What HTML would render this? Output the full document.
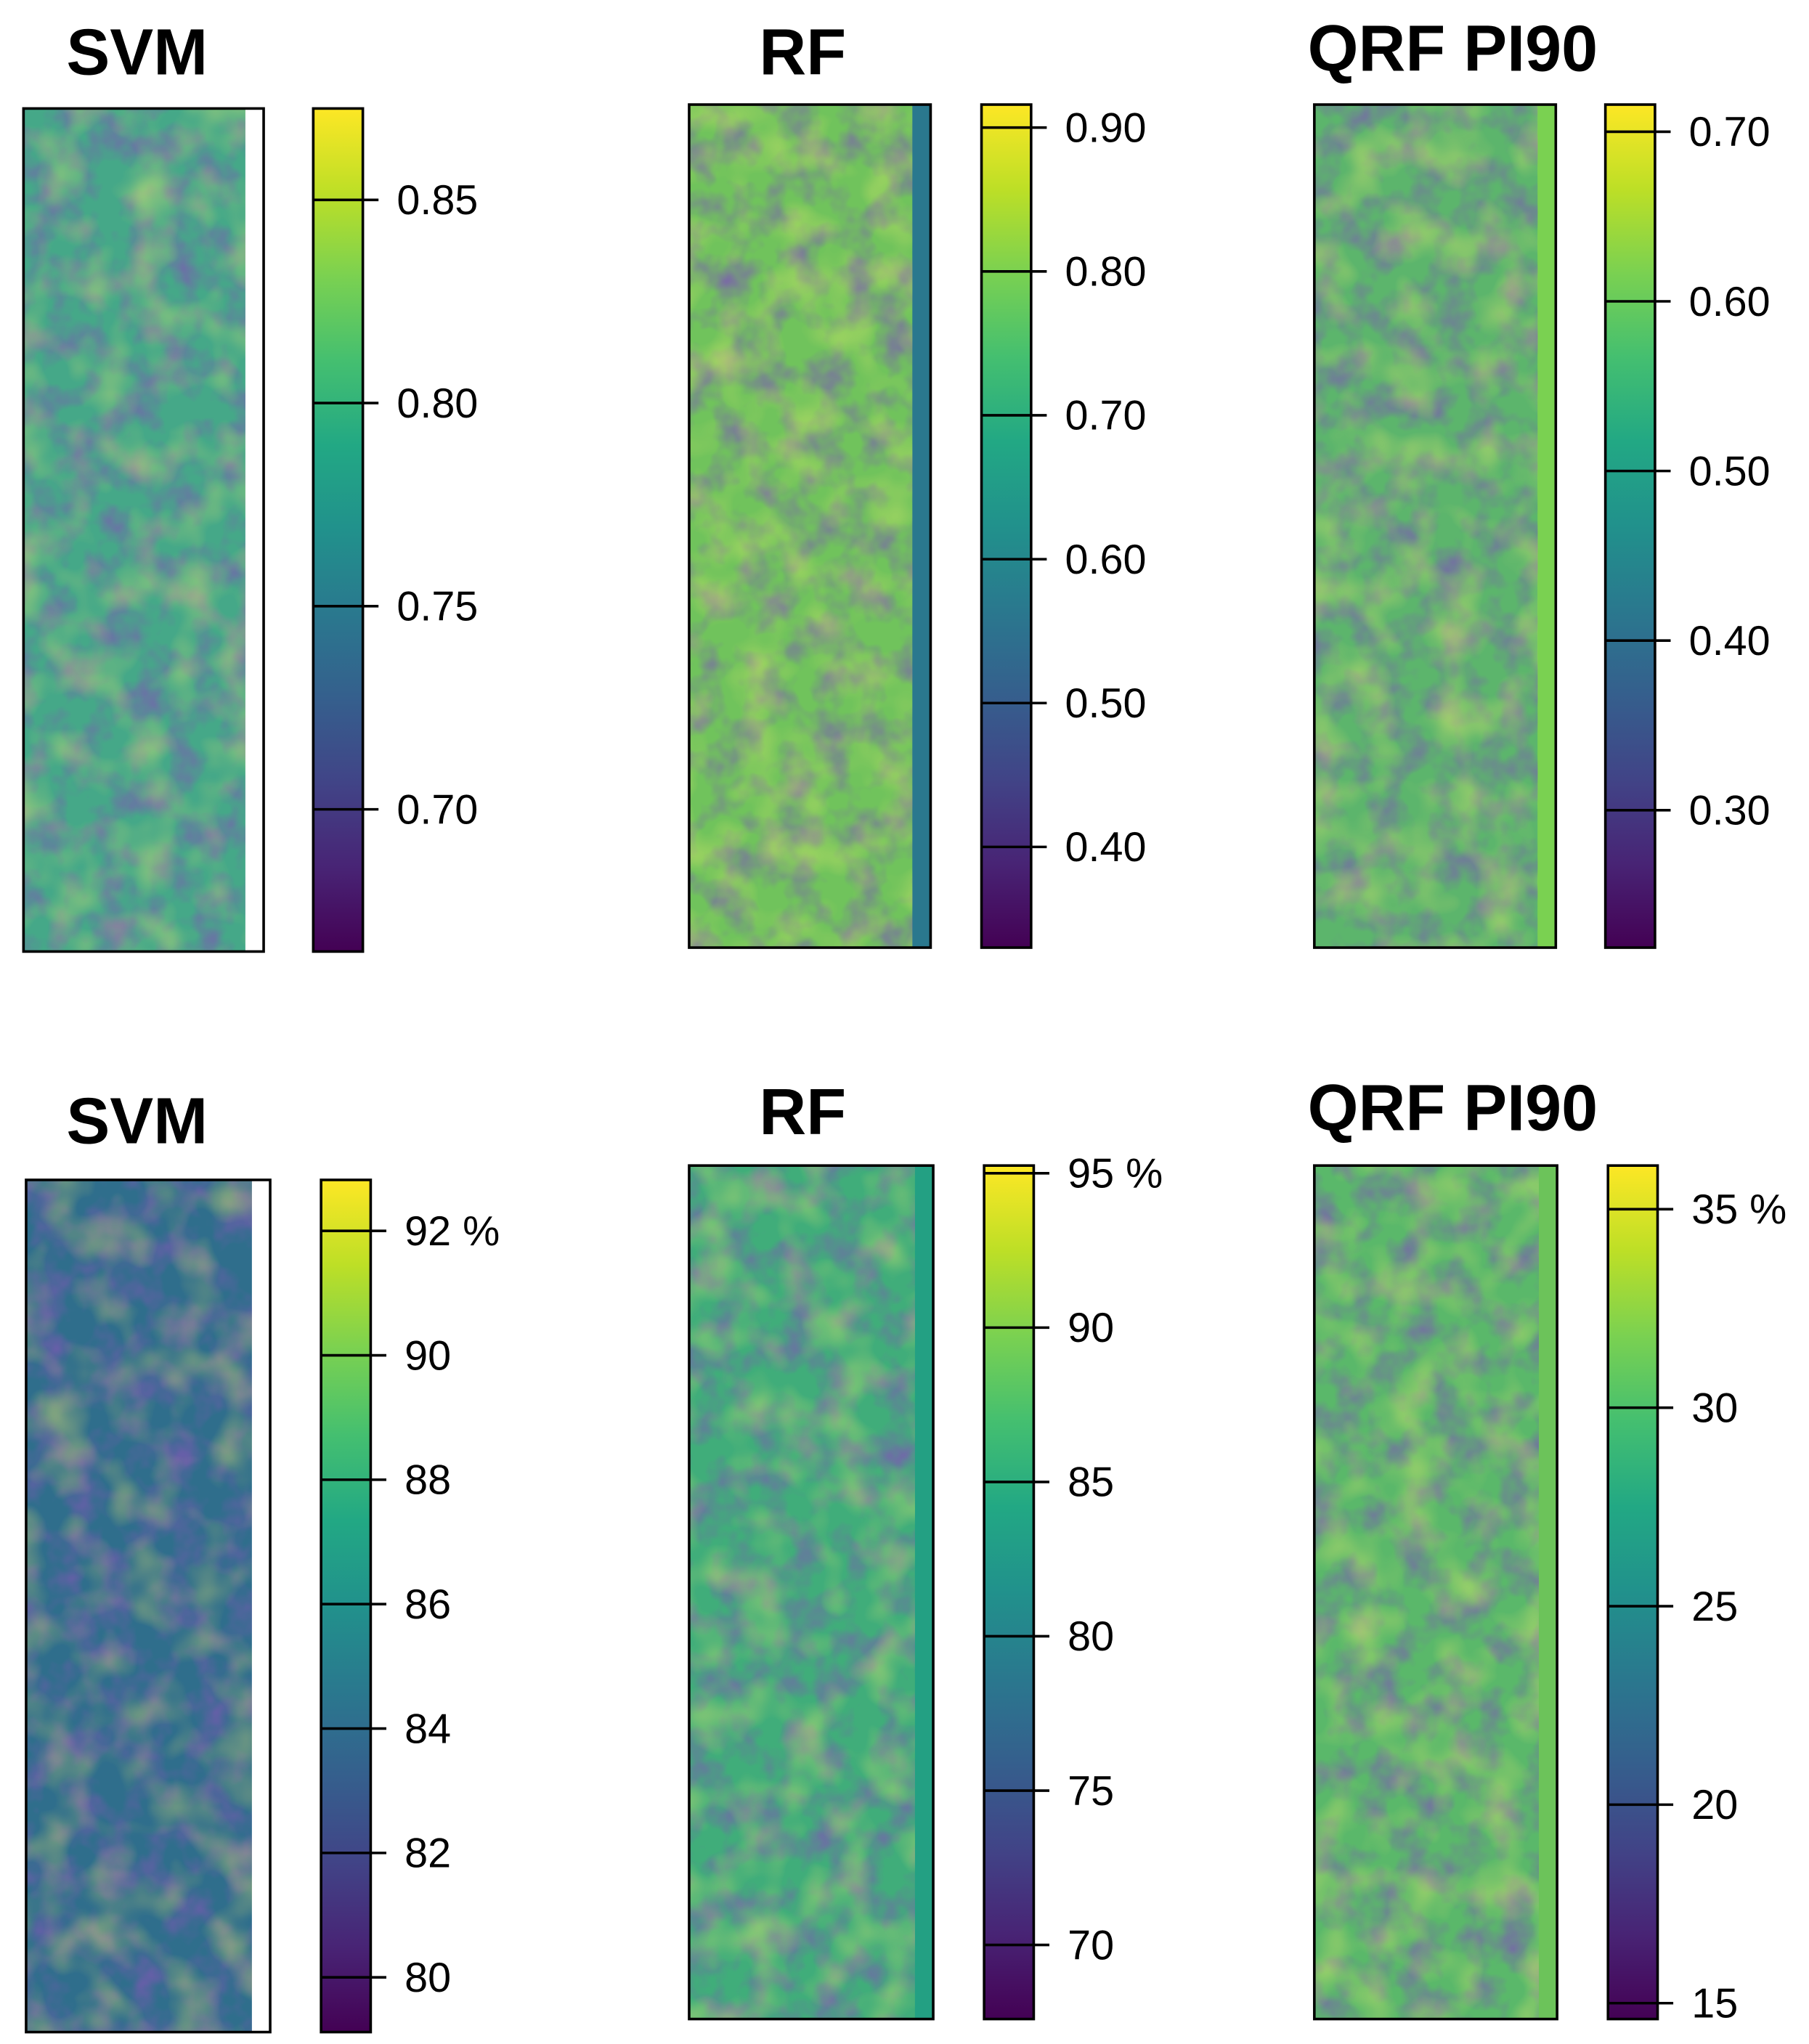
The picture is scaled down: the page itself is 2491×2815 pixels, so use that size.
<!DOCTYPE html>
<html><head><meta charset="utf-8">
<style>
html,body{margin:0;padding:0;background:#fff;}
svg{display:block;}
text{font-family:"Liberation Sans",Arial,sans-serif;}
</style></head>
<body>
<svg id="fig" width="2491" height="2815" viewBox="0 0 1386 1566" xmlns="http://www.w3.org/2000/svg">
<defs>
<linearGradient id="viridis" x1="0" y1="1" x2="0" y2="0">
<stop offset="0" stop-color="#440154"/><stop offset="0.1" stop-color="#482475"/>
<stop offset="0.2" stop-color="#414487"/><stop offset="0.3" stop-color="#355f8d"/>
<stop offset="0.4" stop-color="#2a788e"/><stop offset="0.5" stop-color="#21918c"/>
<stop offset="0.6" stop-color="#22a884"/><stop offset="0.7" stop-color="#44bf70"/>
<stop offset="0.8" stop-color="#7ad151"/><stop offset="0.9" stop-color="#bddf26"/>
<stop offset="1" stop-color="#fde725"/>
</linearGradient>
<filter id="tex" x="0" y="0" width="100%" height="100%">
<feTurbulence type="fractalNoise" baseFrequency="0.04" numOctaves="3" seed="3"/>
<feColorMatrix type="matrix" values="0 0 0 0 0.2  0 0 0 0 0.1  0 0 0 0 0.45  0 0 0 1.4 -0.55"/>
</filter>
<filter id="tex2" x="0" y="0" width="100%" height="100%">
<feTurbulence type="fractalNoise" baseFrequency="0.03" numOctaves="2" seed="9"/>
<feColorMatrix type="matrix" values="0 0 0 0 0.95  0 0 0 0 0.9  0 0 0 0 0.15  0 0 0 1.4 -0.6"/>
</filter>
</defs>
<g id="panels"></g>
</svg>
<script>
const titles=["SVM","RF","QRF PI90","SVM","RF","QRF PI90"];
const ticks0=[0.70,0.75,0.80,0.85];
const ticks1=[0.40,0.50,0.60,0.70,0.80,0.90];
const ticks2=[0.30,0.40,0.50,0.60,0.70];
const ticks3=[80,82,84,86,88,90,92];
const ticks4=[70,75,80,85,90,95];
const ticks5=[15,20,25,30,35];
const ranges=[[0.665,0.8725],[0.33,0.916],[0.219,0.716],[79.12,92.82],[67.6,95.25],[14.6,36.1]];
const pctTop=[false,false,false,true,true,true];
const allTicks=[ticks0,ticks1,ticks2,ticks3,ticks4,ticks5];
const mapColors=["#45a888","#70c35c","#5cb56c","#2f6e8c","#40ad7a","#5ab86a"];
const stripColors=["#ffffff","#2a788e","#7ad151","#ffffff","#23a083","#6cc35a"];
const L=[
 {tx:105,ty:57,mx:18,my:83,mw:184,mh:646,cx:240,cy:83,ch:646,dec:2},
 {tx:615,ty:57,mx:528,my:80,mw:185,mh:646,cx:752,cy:80,ch:646,dec:2},
 {tx:1113,ty:54,mx:1007,my:80,mw:185,mh:646,cx:1230,cy:80,ch:646,dec:2},
 {tx:105,ty:876,mx:20,my:904,mw:187,mh:653,cx:246,cy:904,ch:653,dec:0},
 {tx:615,ty:869,mx:528,my:893,mw:187,mh:654,cx:754,cy:893,ch:654,dec:0},
 {tx:1113,ty:866,mx:1007,my:893,mw:186,mh:654,cx:1232,cy:893,ch:654,dec:0}
];
const NS="http://www.w3.org/2000/svg";
const root=document.getElementById('panels');
function mk(t,a,p){const e=document.createElementNS(NS,t);for(const k in a)e.setAttribute(k,a[k]);p.appendChild(e);return e;}
L.forEach((l,i)=>{
 const g=mk('g',{},root);
 
 
 const t=mk('text',{x:l.tx,y:l.ty,'text-anchor':'middle','font-size':50,'font-weight':'bold'},g);
 t.textContent=titles[i];
 
 
 mk('rect',{x:l.mx,y:l.my,width:l.mw,height:l.mh,fill:stripColors[i]},g);
 const m=mk('rect',{x:l.mx,y:l.my,width:l.mw-14,height:l.mh,fill:mapColors[i]},g);
 
 
 mk('rect',{x:l.mx,y:l.my,width:l.mw-14,height:l.mh,filter:'url(#tex)'},g);
 mk('rect',{x:l.mx,y:l.my,width:l.mw-14,height:l.mh,filter:'url(#tex2)',opacity:0.6},g);
 const f=mk('rect',{x:l.mx,y:l.my,width:l.mw,height:l.mh,fill:'none',stroke:'#000','stroke-width':2},g);
 
 
 const cb=mk('rect',{x:l.cx,y:l.cy,width:38,height:l.ch,fill:'url(#viridis)',stroke:'#000','stroke-width':2},g);
 
 
 const [lo,hi]=ranges[i];
 const yS=v=>l.cy+l.ch-(v-lo)/(hi-lo)*l.ch;
 const tk=allTicks[i];
 tk.forEach((v,j)=>{
  const y=yS(v);
  const ln=mk('line',{x1:l.cx,x2:l.cx+50,y1:y,y2:y,stroke:'#000','stroke-width':2},g);
  
  
  const tx=mk('text',{x:l.cx+64,y:y+11,'font-size':32},g);
  let s=v.toFixed(l.dec);
  if(pctTop[i]&&j===tk.length-1)s+=' %';
  tx.textContent=s;
  
  
 });
});
</script>
</body></html>
